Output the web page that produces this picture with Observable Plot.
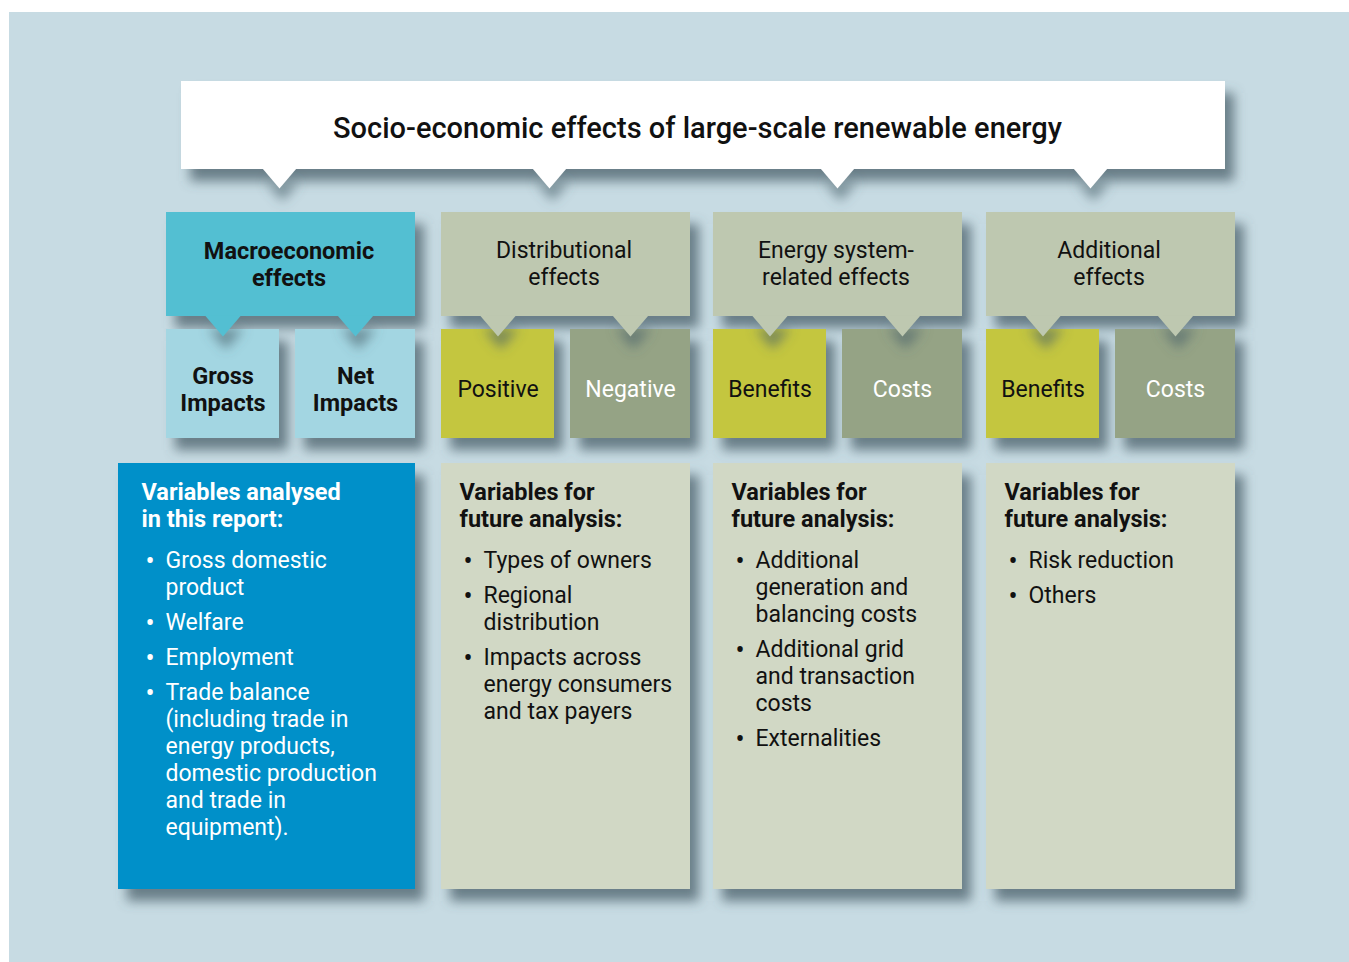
<!DOCTYPE html>
<html><head><meta charset="utf-8">
<script src="https://cdn.jsdelivr.net/npm/d3@7"></script>
<script src="https://cdn.jsdelivr.net/npm/@observablehq/plot@0.6"></script>
<style>body{margin:0;background:#fff} #chart svg{display:block}</style>
</head><body><div id="chart"></div>
<script>
// ---------- content ----------
const title = "Socio-economic effects of large-scale renewable energy";
const groupLabels = ["Macroeconomic\neffects", "Distributional\neffects", "Energy system-\nrelated effects", "Additional\neffects"];
const subLabels = [["Gross\nImpacts", "Net\nImpacts"], ["Positive", "Negative"], ["Benefits", "Costs"], ["Benefits", "Costs"]];
const panelHeadings = ["Variables analysed\nin this report:", "Variables for\nfuture analysis:", "Variables for\nfuture analysis:", "Variables for\nfuture analysis:"];
const panelItems = [
  ["Gross domestic\nproduct", "Welfare", "Employment", "Trade balance\n(including trade in\nenergy products,\ndomestic production\nand trade in\nequipment)."],
  ["Types of owners", "Regional\ndistribution", "Impacts across\nenergy consumers\nand tax payers"],
  ["Additional\ngeneration and\nbalancing costs", "Additional grid\nand transaction\ncosts", "Externalities"],
  ["Risk reduction", "Others"]
];

// ---------- layout ----------
const W = 1349, H = 962;
const panelBox = {x1: 9, y1: 12, x2: W, y2: H};
const titleBox = {x1: 181, y1: 81, x2: 1225, y2: 169};
const titlePointerX = [279, 549, 837, 1090];
const colLeft = [166, 441, 713, 986], colW = 249;
const subW = 113, subGap = 16;
const headY = [212, 316], subY = [329, 438], bodyY = [463, 889], bodyLeft0 = 118;
const lineH = 27, itemGap = 8;
const C = {
  panel: "#c7dbe3", title: "#ffffff", macroHead: "#53bfd2", macroSub: "#a3d6e2",
  head: "#bec8b0", pos: "#c4c63f", neg: "#95a385", body: "#d1d8c5", bodyMacro: "#0090c9",
  shadow: "#4a5f69"
};
const FONT = "Roboto, 'Noto Sans', sans-serif";

const boxes = [], tris = [], texts = [];
function tri(cx, y0, hw, depth, fill, id) {
  return [
    {x: cx - hw, y: y0 - 1, fill, id},
    {x: cx + hw, y: y0 - 1, fill, id},
    {x: cx, y: y0 + depth, fill, id},
    {x: cx - hw, y: y0 - 1, fill, id}
  ];
}
function addLines(str, x, yCenter, style) {
  const ls = str.split("\n");
  ls.forEach((t, j) => texts.push({x, y: yCenter + (j - (ls.length - 1) / 2) * lineH, t, ...style}));
}

boxes.push({...titleBox, fill: C.title});
titlePointerX.forEach((cx, i) => tris.push(...tri(cx, titleBox.y2, 17, 19, C.title, "t" + i)));
addLines(title, (titleBox.x1 + titleBox.x2) / 2 - 6, (titleBox.y1 + titleBox.y2) / 2 + 3, {k: "title"});

groupLabels.forEach((g, i) => {
  const x1 = colLeft[i], x2 = x1 + colW, macro = i === 0;
  const headFill = macro ? C.macroHead : C.head;
  boxes.push({x1, x2, y1: headY[0], y2: headY[1], fill: headFill});
  addLines(g, (x1 + x2) / 2 - 2, (headY[0] + headY[1]) / 2, {k: macro ? "boldMid" : "regMid"});
  const subs = [[x1, x1 + subW], [x1 + subW + subGap, x2]];
  subs.forEach(([a, b], j) => {
    const fill = macro ? C.macroSub : (j === 0 ? C.pos : C.neg);
    boxes.push({x1: a, x2: b, y1: subY[0], y2: subY[1], fill});
    tris.push(...tri((a + b) / 2, headY[1], 18, 20, headFill, `h${i}${j}`));
    const k = macro ? "boldMid" : (j === 0 ? "regMid" : "regMidW");
    addLines(subLabels[i][j], (a + b) / 2, (subY[0] + subY[1]) / 2 + 6, {k});
  });
  const bx1 = macro ? bodyLeft0 : x1;
  boxes.push({x1: bx1, x2, y1: bodyY[0], y2: bodyY[1], fill: macro ? C.bodyMacro : C.body});
  const tx = bx1 + (macro ? 23 : 18);
  let y = bodyY[0] + 29;
  panelHeadings[i].split("\n").forEach(t => { texts.push({x: tx, y, t, k: macro ? "boldStartW" : "boldStart"}); y += lineH; });
  y += 14;
  panelItems[i].forEach(item => {
    texts.push({x: tx + 4, y: y + 1, t: "•", k: macro ? "bulletW" : "bullet"});
    item.split("\n").forEach(t => { texts.push({x: tx + 24, y, t, k: macro ? "regStartW" : "regStart"}); y += lineH; });
    y += itemGap;
  });
});

const styles = {
  title: {fontSize: 29, fontWeight: 500, fill: "#111", textAnchor: "middle"},
  boldMid: {fontSize: 23.5, fontWeight: 700, fill: "#111", textAnchor: "middle"},
  regMid: {fontSize: 23, fontWeight: 400, fill: "#111", textAnchor: "middle"},
  regMidW: {fontSize: 23, fontWeight: 400, fill: "#fff", textAnchor: "middle"},
  boldStart: {fontSize: 23.5, fontWeight: 700, fill: "#111", textAnchor: "start"},
  boldStartW: {fontSize: 23.5, fontWeight: 700, fill: "#fff", textAnchor: "start"},
  regStart: {fontSize: 23, fontWeight: 400, fill: "#111", textAnchor: "start"},
  regStartW: {fontSize: 23, fontWeight: 400, fill: "#fff", textAnchor: "start"},
  bullet: {fontSize: 27, fontWeight: 400, fill: "#111", textAnchor: "start"},
  bulletW: {fontSize: 27, fontWeight: 400, fill: "#fff", textAnchor: "start"}
};

const sdx = 9, sdy = 12;
const textMarks = Object.entries(styles).map(([k, s]) =>
  Plot.text(texts.filter(d => d.k === k), {x: "x", y: "y", text: "t", lineAnchor: "middle", fontFamily: FONT, ...s})
);

const svg = Plot.plot({
  width: W, height: H, margin: 0,
  x: {type: "linear", domain: [0, W], range: [0, W], axis: null},
  y: {type: "linear", domain: [0, H], range: [0, H], axis: null},
  color: {type: "identity"},
  style: {background: "transparent", fontFamily: FONT},
  marks: [
    Plot.rect([panelBox], {x1: "x1", x2: "x2", y1: "y1", y2: "y2", fill: C.panel}),
    Plot.rect(boxes, {x1: d => d.x1 + sdx, x2: d => d.x2 + sdx, y1: d => d.y1 + sdy, y2: d => d.y2 + sdy, fill: C.shadow, fillOpacity: 0.75, ariaDescription: "shadow"}),
    Plot.rect(boxes, {x1: "x1", x2: "x2", y1: "y1", y2: "y2", fill: "fill"}),
    Plot.line(tris, {x: d => d.x + 3, y: d => d.y + 13, z: "id", fill: C.shadow, fillOpacity: 0.6, stroke: "none", ariaDescription: "shadow"}),
    Plot.line(tris, {x: "x", y: "y", z: "id", fill: "fill", stroke: "none"}),
    ...textMarks
  ]
});

const defs = d3.select(svg).insert("defs", ":first-child");
const f = defs.append("filter").attr("id", "soft").attr("x", "-20%").attr("y", "-20%").attr("width", "140%").attr("height", "140%");
f.append("feGaussianBlur").attr("stdDeviation", 6);
d3.select(svg).selectAll('g[aria-description="shadow"]').attr("filter", "url(#soft)");

document.getElementById("chart").appendChild(svg);
</script>
</body></html>
